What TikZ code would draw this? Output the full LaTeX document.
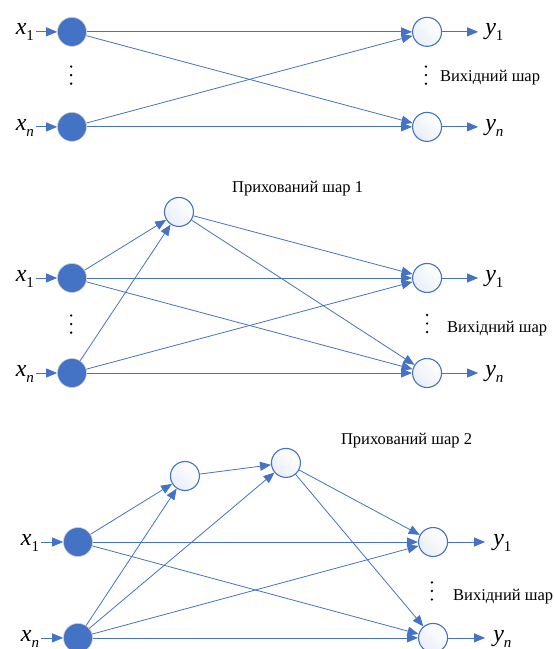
\documentclass[tikz,border=0pt]{standalone}
\usepackage{fontspec}
\setmainfont{Liberation Serif}
\usetikzlibrary{arrows.meta}
\definecolor{nnblue}{HTML}{4472C4}
%% italic letter with a lowered index
\newcommand{\sig}[2]{\textit{#1}\raisebox{-6pt}{\fontsize{15}{15}\selectfont #2}}

\begin{document}
\begin{tikzpicture}[
    innode/.style={circle,fill=nnblue,draw=gray!40,line width=0.6pt,minimum size=29pt,inner sep=0pt},
    neuron/.style={circle,draw=nnblue,line width=1.1pt,top color=white,bottom color=nnblue!12,shading angle=-45,minimum size=29pt,inner sep=0pt},
    conn/.style={draw=nnblue,line width=0.8pt,-{Triangle[length=11pt,width=9pt]}},
    io/.style={inner sep=0pt,font=\fontsize{24}{26}\selectfont},
    layer/.style={inner sep=0pt,anchor=base west,font=\fontsize{16.5}{18}\selectfont},
  ]
    \useasboundingbox (0,0) rectangle (19.44,22.81);

    %% single layer
    \node[innode] (a1) at (2.53,21.69) {};
    \node[innode] (an) at (2.53,18.35) {};
    \node[neuron] (ay1) at (15.01,21.69) {};
    \node[neuron] (ayn) at (15.01,18.35) {};
    \node[io,anchor=base east] (ax1) at (1.20,21.58) {\sig{x}{1}};
    \node[io,anchor=base east] (axn) at (1.20,18.24) {\sig{x}{\textit{n}}};
    \node[io,anchor=base west] (ly1) at (17.05,21.58) {\sig{y}{1}};
    \node[io,anchor=base west] (lyn) at (17.05,18.24) {\sig{y}{\textit{n}}};
    \node[layer] (aout) at (15.46,19.93) {Вихідний шар};
    \foreach \d in {-1,0,1} {
        \fill (2.50,20.17+\d*0.30) circle (1.3pt);
        \fill (14.97,20.17+\d*0.30) circle (1.3pt);
    }
    \foreach \u/\v in {a1/ay1,a1/ayn,an/ay1,an/ayn}
        \draw[conn] (\u) -- (\v);
    \draw[conn,shorten <=2pt] (ax1.east |- a1) -- (a1);
    \draw[conn,shorten <=2pt] (axn.east |- an) -- (an);
    \draw[conn,shorten >=7pt] (ay1) -- (ly1.west |- ay1);
    \draw[conn,shorten >=7pt] (ayn) -- (lyn.west |- ayn);

    %% one hidden layer
    \node[innode] (b1) at (2.53,13.04) {};
    \node[innode] (bn) at (2.53,9.70) {};
    \node[neuron] (bh) at (6.29,15.36) {};
    \node[neuron] (by1) at (15.01,13.04) {};
    \node[neuron] (byn) at (15.01,9.70) {};
    \node[io,anchor=base east] (bx1) at (1.20,12.93) {\sig{x}{1}};
    \node[io,anchor=base east] (bxn) at (1.20,9.59) {\sig{x}{\textit{n}}};
    \node[io,anchor=base west] (my1) at (17.05,12.93) {\sig{y}{1}};
    \node[io,anchor=base west] (myn) at (17.05,9.59) {\sig{y}{\textit{n}}};
    \node[layer] (bhid) at (8.15,16.03) {Прихований шар 1};
    \node[layer] (bout) at (15.71,11.11) {Вихідний шар};
    \foreach \d in {-1,0,1} {
        \fill (2.50,11.42+\d*0.30) circle (1.3pt);
        \fill (15.01,11.44+\d*0.30) circle (1.3pt);
    }
    \foreach \u/\v in {b1/bh,bn/bh,bh/by1,bh/byn,b1/by1,b1/byn,bn/by1,bn/byn}
        \draw[conn] (\u) -- (\v);
    \draw[conn,shorten <=2pt] (bx1.east |- b1) -- (b1);
    \draw[conn,shorten <=2pt] (bxn.east |- bn) -- (bn);
    \draw[conn,shorten >=7pt] (by1) -- (my1.west |- by1);
    \draw[conn,shorten >=7pt] (byn) -- (myn.west |- byn);

    %% two hidden layers
    \node[innode] (c1) at (2.74,3.76) {};
    \node[innode] (cn) at (2.74,0.39) {};
    \node[neuron] (ch1) at (6.50,6.08) {};
    \node[neuron] (ch2) at (10.05,6.54) {};
    \node[neuron] (cy1) at (15.22,3.76) {};
    \node[neuron] (cyn) at (15.22,0.39) {};
    \node[io,anchor=base east] (cx1) at (1.38,3.65) {\sig{x}{1}};
    \node[io,anchor=base east] (cxn) at (1.38,0.28) {\sig{x}{\textit{n}}};
    \node[io,anchor=base west] (ny1) at (17.33,3.65) {\sig{y}{1}};
    \node[io,anchor=base west] (nyn) at (17.33,0.28) {\sig{y}{\textit{n}}};
    \node[layer] (chid) at (11.98,7.17) {Прихований шар 2};
    \node[layer] (cout) at (15.92,1.72) {Вихідний шар};
    \foreach \d in {-1,0,1}
        \fill (15.18,2.04+\d*0.30) circle (1.3pt);
    \foreach \u/\v in {c1/ch1,cn/ch1,cn/ch2,ch1/ch2,ch2/cy1,ch2/cyn,c1/cy1,c1/cyn,cn/cy1,cn/cyn}
        \draw[conn] (\u) -- (\v);
    \draw[conn,shorten <=2pt] (cx1.east |- c1) -- (c1);
    \draw[conn,shorten <=2pt] (cxn.east |- cn) -- (cn);
    \draw[conn,shorten >=8pt] (cy1) -- (ny1.west |- cy1);
    \draw[conn,shorten >=8pt] (cyn) -- (nyn.west |- cyn);
\end{tikzpicture}
\end{document}
